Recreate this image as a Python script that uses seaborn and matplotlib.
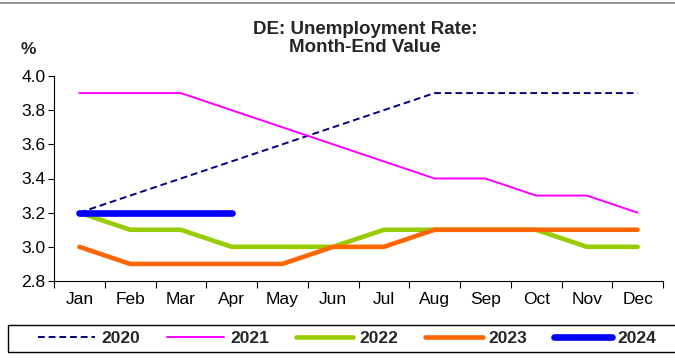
import matplotlib
matplotlib.use("Agg")
import matplotlib.pyplot as plt
import seaborn as sns
import pandas as pd
import numpy as np
from matplotlib.lines import Line2D
from matplotlib.patches import Rectangle

months = ["Jan", "Feb", "Mar", "Apr", "May", "Jun", "Jul", "Aug", "Sep", "Oct", "Nov", "Dec"]
y2020 = [3.2, 3.3, 3.4, 3.5, 3.6, 3.7, 3.8, 3.9, 3.9, 3.9, 3.9, 3.9]
y2021 = [3.9, 3.9, 3.9, 3.8, 3.7, 3.6, 3.5, 3.4, 3.4, 3.3, 3.3, 3.2]
y2022 = [3.2, 3.1, 3.1, 3.0, 3.0, 3.0, 3.1, 3.1, 3.1, 3.1, 3.0, 3.0]
y2023 = [3.0, 2.9, 2.9, 2.9, 2.9, 3.0, 3.0, 3.1, 3.1, 3.1, 3.1, 3.1]
y2024 = [3.2, 3.2, 3.2, 3.2]
yticks = [2.8, 3.0, 3.2, 3.4, 3.6, 3.8, 4.0]

sns.set_theme(style="white")
plt.rcParams['font.family'] = ['Liberation Sans', 'DejaVu Sans']

fig = plt.figure(figsize=(6.75, 3.61), dpi=100)
ax = fig.add_axes([54/675, 1-281/361, (663-54)/675, (281-76)/361])

series = [
    ("2020", y2020, dict(color="#000080", lw=1.4, ls=(0, (3.5, 2.0)))),
    ("2021", y2021, dict(color="#FF00FF", lw=1.4, ls="-")),
    ("2022", y2022, dict(color="#99CC00", lw=3.3, ls="-")),
    ("2023", y2023, dict(color="#FF6600", lw=3.3, ls="-")),
    ("2024", y2024, dict(color="#0000FF", lw=4.8, ls="-")),
]

handles = []
for name, vals, st in series:
    df = pd.DataFrame({"x": np.arange(len(vals)), "y": vals})
    sns.lineplot(data=df, x="x", y="y", ax=ax, color=st["color"], linewidth=st["lw"],
                 linestyle=st["ls"] if isinstance(st["ls"], str) else "-",
                 solid_capstyle="round", legend=False)
    line = ax.lines[-1]
    if not isinstance(st["ls"], str):
        line.set_linestyle(st["ls"])
    handles.append(Line2D([], [], color=st["color"], lw=st["lw"], ls=st["ls"],
                          solid_capstyle="round", label=name))

ax.set_xlim(-0.5, 11.5)
ax.set_ylim(2.8, 4.0)
ax.set_yticks(yticks)
ax.set_yticklabels([f"{v:.1f}" for v in yticks], fontsize=12.5)
ax.set_xticks(range(12))
ax.set_xticklabels(months, fontsize=12.5)
ax.set_xticks(np.arange(-0.5, 12, 1), minor=True)
ax.tick_params(axis="x", which="major", length=0, pad=8, colors="black")
ax.tick_params(axis="x", which="minor", length=5, width=0.8, direction="out", bottom=True, color="black")
ax.tick_params(axis="y", which="major", length=4, width=0.8, direction="out", left=True, pad=2, colors="black")
ax.set_xlabel("")
ax.set_ylabel("")
for s in ["top", "right"]:
    ax.spines[s].set_visible(False)
for s in ["left", "bottom"]:
    ax.spines[s].set_color("black")
    ax.spines[s].set_linewidth(0.8)
ax.set_facecolor("white")

fig.text(365/675, 1-29/361, "DE: Unemployment Rate:", ha="center", va="center",
         fontsize=13.5, fontweight="bold")
fig.text(365/675, 1-47/361, "Month-End Value", ha="center", va="center",
         fontsize=13.5, fontweight="bold")
fig.text(28/675, 1-50/361, "%", ha="center", va="center", fontsize=12.5, fontweight="bold")

# top frame line
fig.add_artist(Line2D([0, 1], [1-3/361, 1-3/361], transform=fig.transFigure, color="#808080", lw=1.2))

# legend frame
fig.add_artist(Rectangle((8/675, 1-352/361), 1.0, 27/361, transform=fig.transFigure,
                         fill=False, edgecolor="black", lw=1.0))
fig.legend(handles=handles, loc="center left", bbox_to_anchor=(38/675, 1-338.5/361),
           ncol=5, frameon=False, prop={"weight": "bold", "size": 12.5},
           handlelength=3.3, handletextpad=0.35, columnspacing=1.55, borderpad=0,
           borderaxespad=0)

fig.savefig("out.png", dpi=100, facecolor="white")
